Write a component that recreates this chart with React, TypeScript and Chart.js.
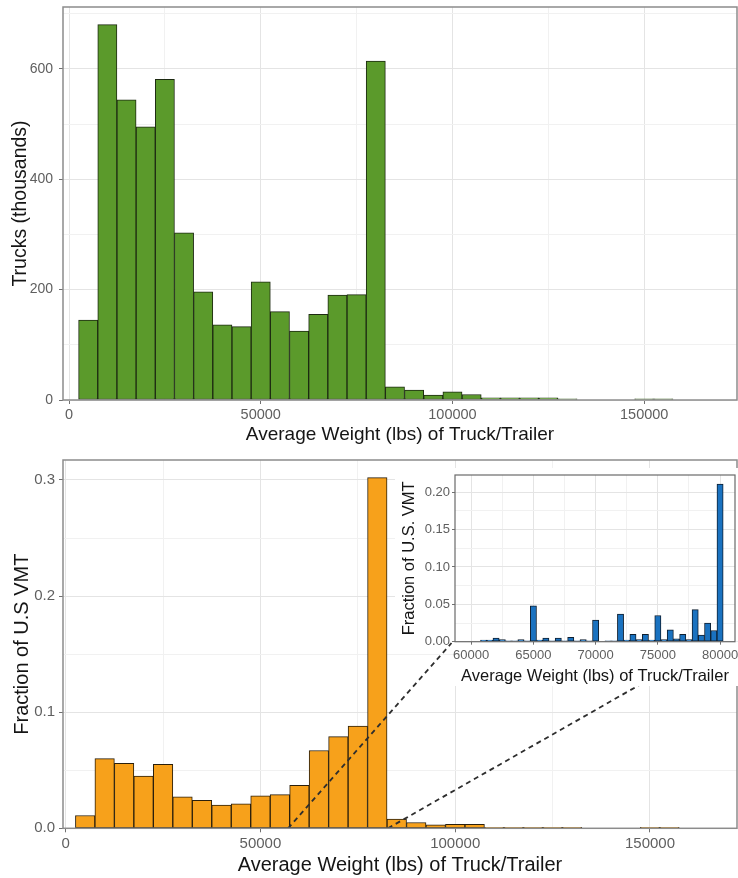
import React, { useEffect, useRef } from 'react';
import { Chart, registerables } from 'chart.js';
Chart.register(...registerables);

const FONT = "'Liberation Sans', Arial, Helvetica, sans-serif";

// ---- main histograms (5000-lb bins, labelled by bin centre) ----
const binCenters = [5000, 10000, 15000, 20000, 25000, 30000, 35000, 40000, 45000, 50000, 55000, 60000, 65000, 70000, 75000, 80000, 85000, 90000, 95000, 100000, 105000, 110000, 115000, 120000, 125000, 130000, 135000, 140000, 145000, 150000, 155000];
const truckThousands = [145, 680, 544, 495, 581, 303, 196, 136, 133, 214, 160, 125, 155, 190, 191, 614, 24, 18, 9, 15, 10, 4, 4, 4, 4, 2, null, null, null, 2, 2];
const vmtFraction = [0.011, 0.060, 0.056, 0.045, 0.055, 0.027, 0.024, 0.020, 0.021, 0.028, 0.029, 0.037, 0.067, 0.079, 0.088, 0.302, 0.008, 0.005, 0.003, 0.0035, 0.0035, 0.0009, 0.0009, 0.0009, 0.0009, 0.0009, null, null, null, 0.0009, 0.0009];

// ---- inset histogram (500-lb bins) ----
const insetCenters = [61000, 61500, 62000, 62500, 63000, 63500, 64000, 64500, 65000, 65500, 66000, 66500, 67000, 67500, 68000, 68500, 69000, 69500, 70000, 70500, 71000, 71500, 72000, 72500, 73000, 73500, 74000, 74500, 75000, 75500, 76000, 76500, 77000, 77500, 78000, 78500, 79000, 79500, 80000];
const insetFraction = [0.002, 0.002, 0.005, 0.003, 0.001, 0.001, 0.003, 0.001, 0.048, 0.002, 0.005, 0.001, 0.005, 0.001, 0.006, 0.001, 0.003, 0.001, 0.029, null, 0.001, 0.001, 0.037, 0.002, 0.010, 0.003, 0.010, 0.002, 0.035, 0.003, 0.016, 0.004, 0.010, 0.003, 0.043, 0.009, 0.025, 0.015, 0.211];

// ---- axes ----
const mainXTicks = [0, 25000, 50000, 75000, 100000, 125000, 150000];
const mainXLabels = [0, 50000, 100000, 150000];
const truckYTicks = [0, 100, 200, 300, 400, 500, 600, 700];
const truckYLabels = [0, 200, 400, 600];
const vmtYTicks = [0, 0.05, 0.1, 0.15, 0.2, 0.25, 0.3];
const vmtYLabels = [0, 0.1, 0.2, 0.3];
const insetXTicks = [60000, 62500, 65000, 67500, 70000, 72500, 75000, 77500, 80000];
const insetXLabels = [60000, 65000, 70000, 75000, 80000];
const insetYTicks = [0, 0.025, 0.05, 0.075, 0.1, 0.125, 0.15, 0.175, 0.2];
const insetYLabels = [0, 0.05, 0.1, 0.15, 0.2];

// ---- zoom guide lines (in the lower chart's data units) ----
const zoomLineLow = [{ x: 57080, y: 0 }, { x: 99050, y: 0.1596 }];
const zoomLineHigh = [{ x: 82720, y: 0 }, { x: 147260, y: 0.1234 }];

const xTitle = 'Average Weight (lbs) of Truck/Trailer';

function axis(o: any) {
  const isMajor = (v: number) => o.labels.some((l: number) => Math.abs(l - v) < 1e-9);
  return {
    type: 'linear',
    min: o.min,
    max: o.max,
    offset: false,
    afterBuildTicks: (s: any) => { s.ticks = o.ticks.map((v: number) => ({ value: v })); },
    afterFit: (s: any) => {
      if (o.horizontal) s.height = o.size; else s.width = o.size;
      s.paddingLeft = 0; s.paddingRight = 0; s.paddingTop = 0; s.paddingBottom = 0;
    },
    ticks: {
      autoSkip: false, maxRotation: 0, minRotation: 0, padding: o.tickPad, color: '#5f5f5f',
      font: { family: FONT, size: o.tickFont },
      callback: (v: number) => (isMajor(v) ? o.fmt(v) : ''),
    },
    grid: {
      offset: false,
      color: (c: any) => (c.tick && isMajor(c.tick.value) ? '#e4e4e4' : '#f1f1f1'),
      lineWidth: 1,
      drawTicks: true,
      tickLength: o.tickLen,
      tickColor: (c: any) => (c.tick && isMajor(c.tick.value) ? '#707070' : 'rgba(0,0,0,0)'),
    },
    border: { display: false },
    title: {
      display: true, text: o.title, color: '#151515',
      font: { family: FONT, size: o.titleFont },
      padding: o.horizontal ? { top: 0, bottom: o.titlePad } : { top: o.titlePad, bottom: 0 },
    },
  };
}

const panelBorder = {
  id: 'panelBorder',
  afterDraw(chart: any, _a: any, opts: any) {
    const { ctx, chartArea: a } = chart;
    ctx.save();
    ctx.strokeStyle = opts.color || '#8a8a8a';
    ctx.lineWidth = opts.width || 1.5;
    ctx.strokeRect(a.left, a.top, a.right - a.left, a.bottom - a.top);
    ctx.restore();
  },
};

const insetBg = {
  id: 'insetBg',
  beforeDraw(chart: any) {
    const { ctx, chartArea: a, width, height } = chart;
    ctx.save();
    ctx.fillStyle = '#ffffff';
    ctx.fillRect(0, 0, width, a.bottom);
    ctx.fillRect(a.left, a.bottom, width - a.left, height - a.bottom);
    ctx.restore();
  },
};

function barSet(xs: number[], ys: (number | null)[], fill: string, stroke: string) {
  return {
    type: 'bar',
    data: xs.map((x, i) => ({ x, y: ys[i] })),
    backgroundColor: fill,
    borderColor: stroke,
    borderWidth: 1,
    borderSkipped: false,
    barPercentage: 1,
    categoryPercentage: 1,
    grouped: false,
    order: 2,
  };
}

function lineSet(pts: any[]) {
  return {
    type: 'line',
    data: pts,
    borderColor: '#2e2e2e',
    borderWidth: 1.8,
    borderDash: [5, 4],
    pointRadius: 0,
    fill: false,
    tension: 0,
    order: 1,
  };
}

const baseOptions = (padding: any, scales: any, border: any) => ({
  responsive: false,
  maintainAspectRatio: false,
  animation: false,
  devicePixelRatio: 1,
  layout: { padding },
  plugins: { legend: { display: false }, tooltip: { enabled: false }, panelBorder: border },
  scales,
});

export default function App() {
  const topRef = useRef<HTMLCanvasElement>(null);
  const botRef = useRef<HTMLCanvasElement>(null);
  const insRef = useRef<HTMLCanvasElement>(null);

  useEffect(() => {
    const charts: Chart[] = [];

    charts.push(new Chart(topRef.current as any, {
      type: 'bar',
      data: { datasets: [barSet(binCenters, truckThousands, '#5b9a2b', '#1d2a12') as any] },
      options: baseOptions({ left: 0, top: 7, right: 1, bottom: 0 }, {
        x: axis({ horizontal: true, min: -1565, max: 174200, ticks: mainXTicks, labels: mainXLabels, fmt: (v: number) => String(v), tickFont: 14.5, tickPad: 2, tickLen: 4, title: xTitle, titleFont: 19, titlePad: 4, size: 50 }),
        y: axis({ horizontal: false, min: 0, max: 712, ticks: truckYTicks, labels: truckYLabels, fmt: (v: number) => String(v), tickFont: 14, tickPad: 6, tickLen: 4, title: 'Trucks (thousands)', titleFont: 19.5, titlePad: 9, size: 63 }),
      }, { color: '#8c8c8c', width: 1.5 }) as any,
      plugins: [panelBorder],
    }));

    charts.push(new Chart(botRef.current as any, {
      type: 'bar',
      data: {
        datasets: [
          lineSet(zoomLineLow) as any,
          lineSet(zoomLineHigh) as any,
          barSet(binCenters, vmtFraction, '#f7a11b', '#2a1f0c') as any,
        ],
      },
      options: baseOptions({ left: 0, top: 10, right: 1, bottom: 0 }, {
        x: axis({ horizontal: true, min: -690, max: 172340, ticks: mainXTicks, labels: mainXLabels, fmt: (v: number) => String(v), tickFont: 15, tickPad: 3, tickLen: 4, title: xTitle, titleFont: 20, titlePad: 1, size: 49.7 }),
        y: axis({ horizontal: false, min: 0, max: 0.3172, ticks: vmtYTicks, labels: vmtYLabels, fmt: (v: number) => v.toFixed(1), tickFont: 15, tickPad: 4, tickLen: 4, title: 'Fraction of U.S VMT', titleFont: 20, titlePad: 10, size: 63 }),
      }, { color: '#8c8c8c', width: 1.5 }) as any,
      plugins: [panelBorder],
    }));

    charts.push(new Chart(insRef.current as any, {
      type: 'bar',
      data: { datasets: [barSet(insetCenters, insetFraction, '#1a72c0', '#0f1f30') as any] },
      options: baseOptions({ left: 0, top: 7, right: 3, bottom: 0 }, {
        x: axis({ horizontal: true, min: 58700, max: 81200, ticks: insetXTicks, labels: insetXLabels, fmt: (v: number) => String(v), tickFont: 13, tickPad: 3, tickLen: 3, title: xTitle, titleFont: 16.5, titlePad: 0, size: 44.3 }),
        y: axis({ horizontal: false, min: 0, max: 0.223, ticks: insetYTicks, labels: insetYLabels, fmt: (v: number) => v.toFixed(2), tickFont: 13, tickPad: 2, tickLen: 3, title: 'Fraction of U.S. VMT', titleFont: 16.5, titlePad: 5, size: 60 }),
      }, { color: '#6a6a6a', width: 1.2 }) as any,
      plugins: [insetBg, panelBorder],
    }));

    return () => { charts.forEach((c) => c.destroy()); };
  }, []);

  return (
    <div style={{ position: 'absolute', left: 0, top: 0, width: 738, height: 878, background: '#ffffff' }}>
      <canvas ref={topRef} width={738} height={450} style={{ position: 'absolute', left: 0, top: 0, width: 738, height: 450 }} />
      <canvas ref={botRef} width={738} height={428} style={{ position: 'absolute', left: 0, top: 450, width: 738, height: 428 }} />
      <canvas ref={insRef} width={343} height={218} style={{ position: 'absolute', left: 395, top: 468, width: 343, height: 218 }} />
    </div>
  );
}
